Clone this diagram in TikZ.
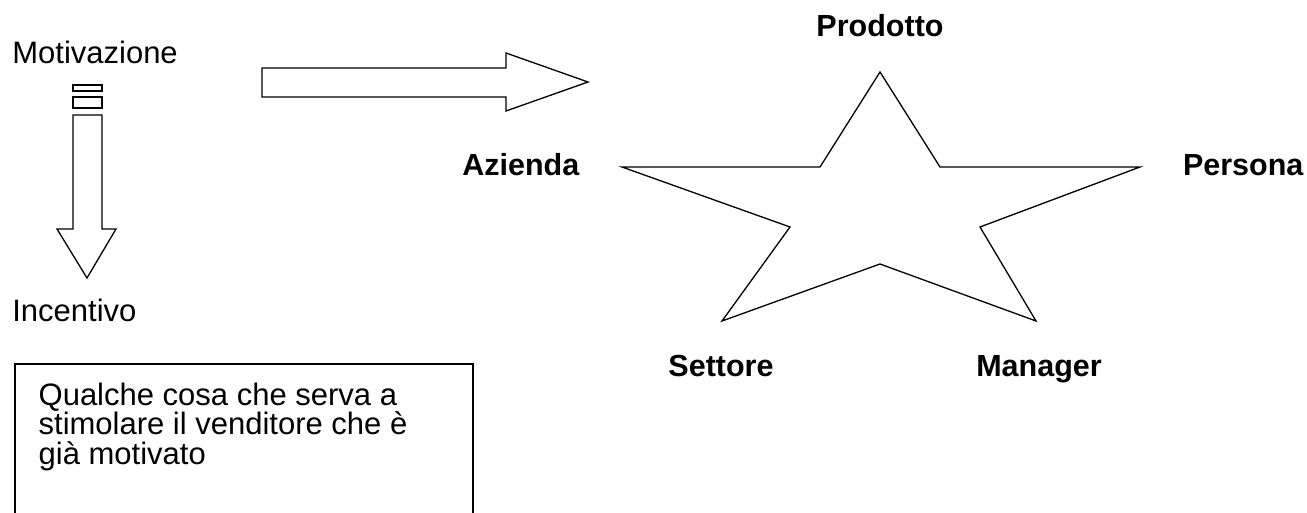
\documentclass[tikz,border=0pt]{standalone}
\usepackage{fontspec}
\setmainfont{Liberation Sans}
\begin{document}
\begin{tikzpicture}[x=1pt,y=-1pt,line width=1.3pt,line join=miter,
  lbl/.style={font=\fontsize{31}{29.2}\selectfont,inner sep=0pt,anchor=base west},
  blbl/.style={font=\fontsize{30.5}{34}\selectfont\bfseries,inner sep=0pt,anchor=base},
  shapeline/.style={draw=black,fill=white}]
\useasboundingbox (0,0) rectangle (1307,513);
% left side labels
\node[lbl] (motiv) at (11.7,63.3) {Motivazione};
\node[lbl] (incent) at (11.7,321.7) {Incentivo};
% striped down arrow
\draw[shapeline] (73,85) rectangle (102,91);
\draw[shapeline] (73,97) rectangle (102,108);
\draw[shapeline] (73,115) -- (102,115) -- (102,229) -- (116,229) -- (87,278)
  -- (57,229) -- (73,229) -- cycle;
% right block arrow
\draw[shapeline] (262,68) -- (506,68) -- (506,53) -- (588,82) -- (506,111)
  -- (506,97) -- (262,97) -- cycle;
% box
\draw (15,513) -- (15,364) -- (473,364) -- (473,513);
\node[lbl,align=left] (boxtxt) at (38,464)
  {Qualche cosa che serva a\\stimolare il venditore che è\\già motivato};
% star
\draw[shapeline] (880,72) -- (940,167) -- (1140,167) -- (980,227) -- (1036,321)
  -- (880,264) -- (722,321) -- (790,227) -- (622,167) -- (820,167) -- cycle;
% star labels
\node[blbl] (prod) at (880,37) {Prodotto};
\node[blbl,anchor=base west] (azi) at (461.7,176) {Azienda};
\node[blbl,anchor=base east] (pers) at (1304,176) {Persona};
\node[blbl] (sett) at (721,376) {Settore};
\node[blbl] (man) at (1039,376) {Manager};
\end{tikzpicture}
\end{document}
